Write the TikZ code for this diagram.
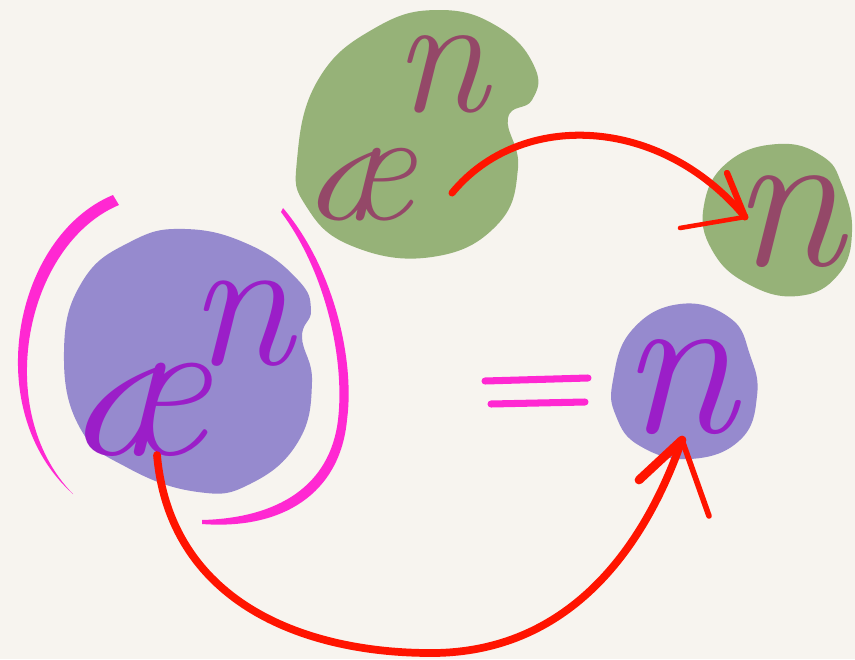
\documentclass[tikz,border=0pt]{standalone}
\usepackage{fontspec}
\usetikzlibrary{positioning}

\definecolor{paper}{HTML}{F7F4EF}
\definecolor{leafgreen}{HTML}{96B278}
\definecolor{plum}{HTML}{944868}
\definecolor{lavender}{HTML}{968ACE}
\definecolor{violet}{HTML}{9B1EC8}
\definecolor{pinkink}{HTML}{FF28D2}
\definecolor{redink}{HTML}{FF1400}

\begin{document}
\begin{tikzpicture}[
    x=0.02cm, y=-0.02cm,
    blob/.style={smooth cycle, tension=0.75},
    greenglyph/.style={inner sep=0pt, text=plum},
    purpleglyph/.style={inner sep=0pt, text=violet},
    paren/.style={fill=pinkink},
    equalbar/.style={draw=pinkink, line width=4pt, line cap=round},
    redstroke/.style={draw=redink, line width=4pt, line cap=round},
    barb/.style={draw=redink, line cap=round}
]

% Paper
\fill[paper] (0,0) rectangle (855,659);
\useasboundingbox (0,0) rectangle (855,659);

% Blobs
\fill[leafgreen] plot[blob] coordinates {(297,160) (318,80) (375,28) (440,10) (500,28) (535,68) (532,100) (508,118) (518,168) (497,225) (432,257) (352,246) (306,206)};
\fill[leafgreen] plot[blob] coordinates {(704,205) (728,162) (778,144) (822,156) (842,185) (852,232) (838,275) (798,296) (748,284) (712,250)};
\fill[lavender] plot[blob] coordinates {(64,352) (82,282) (130,242) (185,229) (250,245) (298,280) (311,310) (302,337) (312,382) (298,442) (250,484) (198,492) (128,468) (80,428)};
\fill[lavender] plot[blob] coordinates {(613,380) (632,330) (680,304) (730,318) (750,355) (757,396) (740,440) (690,459) (640,446) (616,416)};

% Green term
\node[greenglyph, font=\fontsize{92}{92}\selectfont\itshape] (aeG) at (360,185) {æ};
\node[greenglyph, font=\fontsize{98}{98}\selectfont\itshape] (nG) at (441,74) {n};
\node[greenglyph, font=\fontsize{116}{116}\selectfont\itshape] (nGr) at (788,222) {n};

% Purple term
\node[purpleglyph, font=\fontsize{118}{118}\selectfont\itshape] (aeP) at (139,410) {æ};
\node[purpleglyph, font=\fontsize{108}{108}\selectfont\itshape] (nP) at (241,324) {n};
\node[purpleglyph, font=\fontsize{120}{120}\selectfont\itshape] (nPr) at (678,387) {n};

% Parentheses
\fill[paren] (113,195) .. controls (14,236) and (-21,410) .. (73,494)
  .. controls (-9,410) and (26,244) .. (119,205) -- cycle;
\fill[paren] (283,208) .. controls (334,268) and (355,360) .. (347,420)
  .. controls (340,494) and (282,530) .. (202,524)
  -- (202,520) .. controls (278,518) and (330,486) .. (338,420)
  .. controls (345,360) and (326,272) .. (281,212) -- cycle;

% Equals sign
\coordinate (eqA) at (485,381);
\coordinate (eqB) at (588,378);
\coordinate (eqC) at (491,404);
\coordinate (eqD) at (585,402);
\draw[equalbar] (eqA) -- (eqB);
\draw[equalbar] (eqC) -- (eqD);

% Arrow: green
\coordinate (topStart) at (452,193);
\coordinate (topTip) at (745,217);
\draw[redstroke] (topStart) .. controls (520,110) and (660,115) .. (topTip);
\draw[barb, line width=3.6pt] (topTip) -- (727,173);
\draw[barb, line width=2.6pt] (topTip) -- (680,228);

% Arrow: purple
\coordinate (lowStart) at (157,455);
\coordinate (lowTip) at (682,440);
\draw[redstroke, line width=4.4pt] (lowStart) .. controls (170,600) and (300,652) .. (427,653)
  .. controls (560,655) and (640,560) .. (lowTip);
\draw[barb, line width=5pt] (lowTip) -- (639,480);
\draw[barb, line width=3.2pt] (lowTip) -- (709,516);

\end{tikzpicture}
\end{document}
